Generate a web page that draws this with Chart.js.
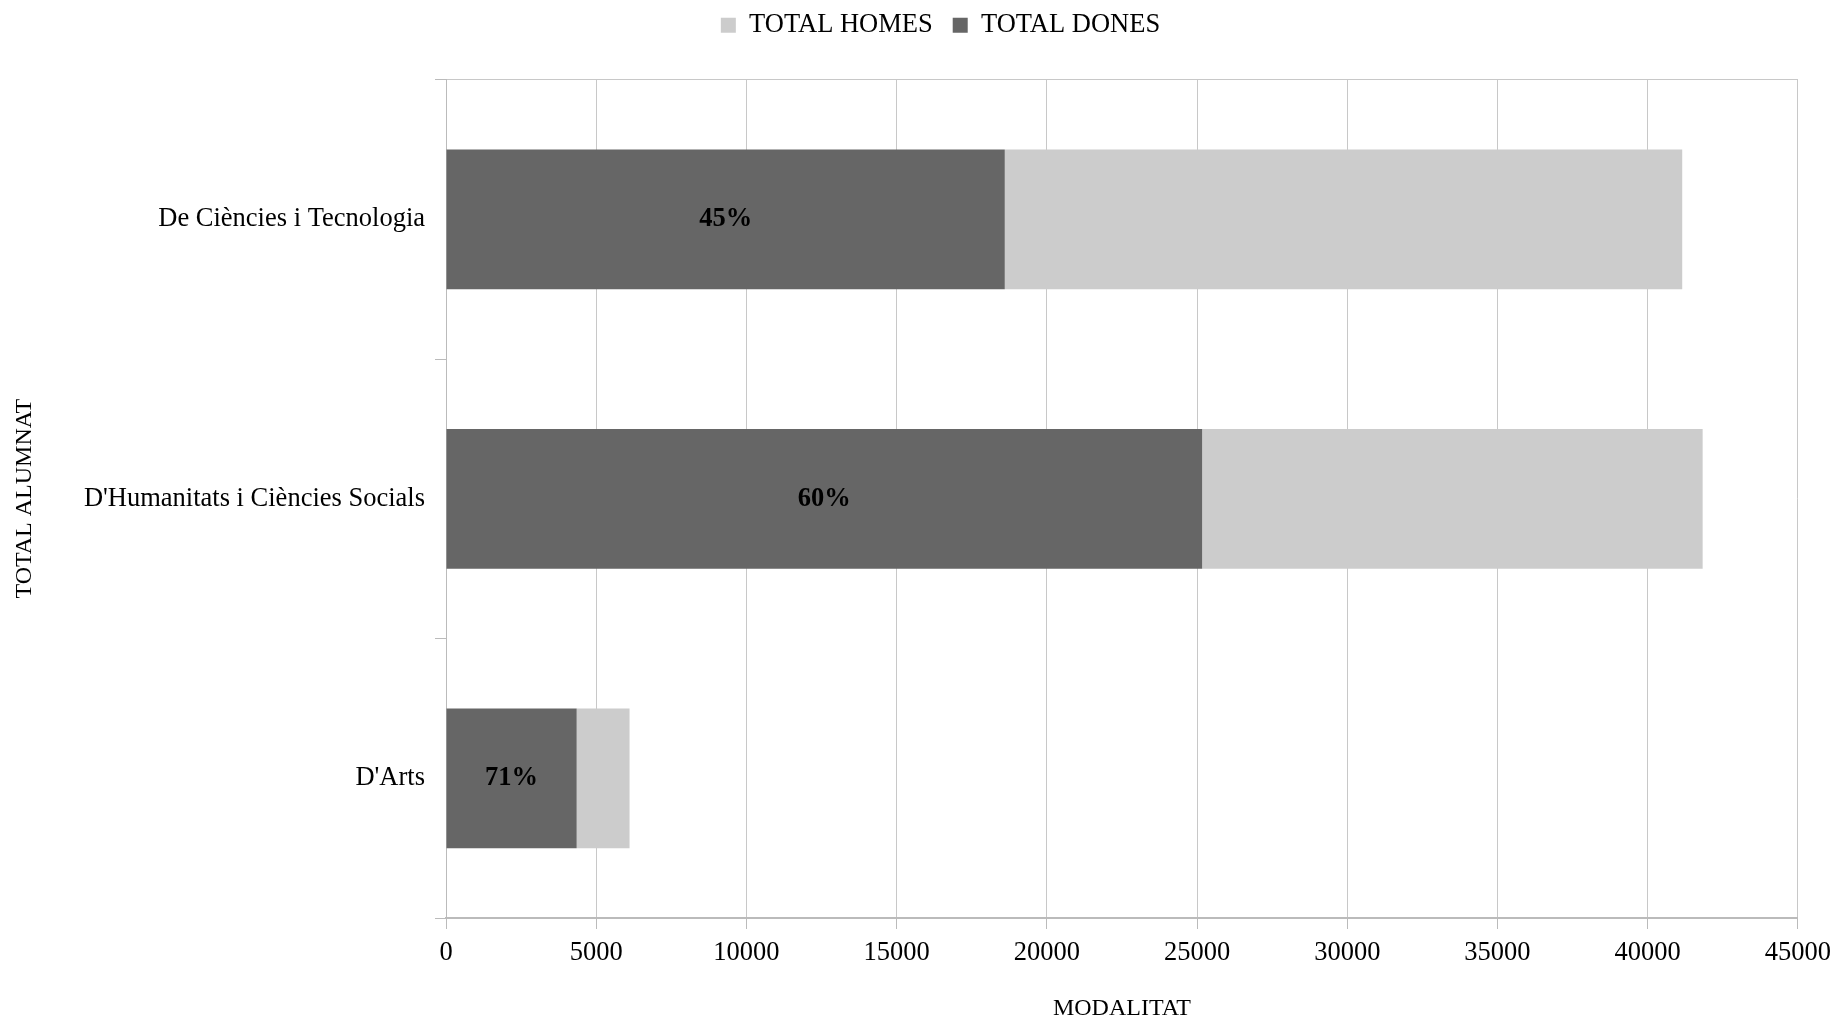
<!DOCTYPE html>
<html>
<head>
<meta charset="utf-8">
<script src="https://cdn.jsdelivr.net/npm/chart.js@4.4.1/dist/chart.umd.min.js"></script>
<style>
  html, body { margin: 0; padding: 0; background: #ffffff; }
  #wrap { width: 1839px; height: 1023px; }
</style>
</head>
<body>
<div id="wrap"><canvas id="c" width="1839" height="1023"></canvas></div>
<script>
const categories = ["De Ciències i Tecnologia", "D'Humanitats i Ciències Socials", "D'Arts"];
const totalDones = [18600, 25170, 4350];
const totalHomes = [22550, 16660, 1760];
const xTicks = [0, 5000, 10000, 15000, 20000, 25000, 30000, 35000, 40000, 45000];
const seriesNames = ["TOTAL DONES", "TOTAL HOMES"];
const axisTitleX = "MODALITAT";
const axisTitleY = "TOTAL ALUMNAT";

const FONT = "'Liberation Serif', 'Times New Roman', serif";

const pctLabels = {
  id: 'pctLabels',
  afterDatasetsDraw(chart) {
    const meta = chart.getDatasetMeta(0);
    const ctx = chart.ctx;
    ctx.save();
    ctx.font = "bold 26.5px " + FONT;
    ctx.fillStyle = '#000000';
    ctx.textAlign = 'center';
    ctx.textBaseline = 'middle';
    meta.data.forEach((bar, i) => {
      const total = totalDones[i] + totalHomes[i];
      const pct = Math.round(totalDones[i] / total * 100) + '%';
      ctx.fillText(pct, (bar.base + bar.x) / 2, bar.y);
    });
    ctx.restore();
  }
};

new Chart(document.getElementById('c'), {
  type: 'bar',
  data: {
    labels: categories,
    datasets: [
      { label: seriesNames[0], data: totalDones, backgroundColor: '#666666', borderWidth: 0, xAxisID: 'x', yAxisID: 'y' },
      { label: seriesNames[1], data: totalHomes, backgroundColor: '#cccccc', borderWidth: 0, xAxisID: 'x', yAxisID: 'y' }
    ]
  },
  options: {
    indexAxis: 'y',
    responsive: false,
    animation: false,
    devicePixelRatio: 1,
    categoryPercentage: 1.0,
    barPercentage: 0.5,
    layout: { padding: { left: 78, right: 36, top: -8, bottom: 0 } },
    plugins: {
      tooltip: { enabled: false },
      legend: {
        position: 'top',
        reverse: true,
        labels: {
          font: { family: FONT, size: 26.5 },
          color: '#000000',
          boxWidth: 15,
          boxHeight: 15,
          padding: 20
        }
      }
    },
    scales: {
      x: {
        stacked: true,
        position: 'bottom',
        min: 0,
        max: 45000,
        afterBuildTicks(scale) { scale.ticks = xTicks.map(v => ({ value: v })); },
        afterFit(scale) { scale.height = 105; },
        ticks: {
          font: { family: FONT, size: 26.5 },
          color: '#000000',
          padding: 8,
          callback: (v) => String(v)
        },
        grid: { color: '#c8c8c8', tickLength: 11, tickColor: '#bbbbbb' },
        border: { color: '#bbbbbb', width: 2 },
        title: {
          display: true,
          text: axisTitleX,
          font: { family: FONT, size: 24 },
          color: '#000000',
          padding: { top: 16, bottom: 0 }
        }
      },
      xTop: {
        type: 'linear',
        position: 'top',
        axis: 'x',
        min: 0,
        max: 45000,
        afterFit(scale) { scale.height = 31; },
        ticks: { display: false },
        grid: { display: false, drawTicks: false },
        border: { display: true, color: '#c8c8c8', width: 1 }
      },
      y: {
        stacked: true,
        afterFit(scale) { scale.width = 368; },
        ticks: {
          font: { family: FONT, size: 26.5 },
          color: '#000000',
          padding: 10
        },
        grid: {
          offset: true,
          drawOnChartArea: false,
          tickColor: '#bbbbbb',
          tickLength: 11
        },
        border: { color: '#bbbbbb', width: 1 },
        title: {
          display: true,
          text: axisTitleY,
          font: { family: FONT, size: 24 },
          color: '#000000',
          padding: { top: -68, bottom: 0 }
        }
      }
    }
  },
  plugins: [pctLabels]
});
</script>
</body>
</html>
